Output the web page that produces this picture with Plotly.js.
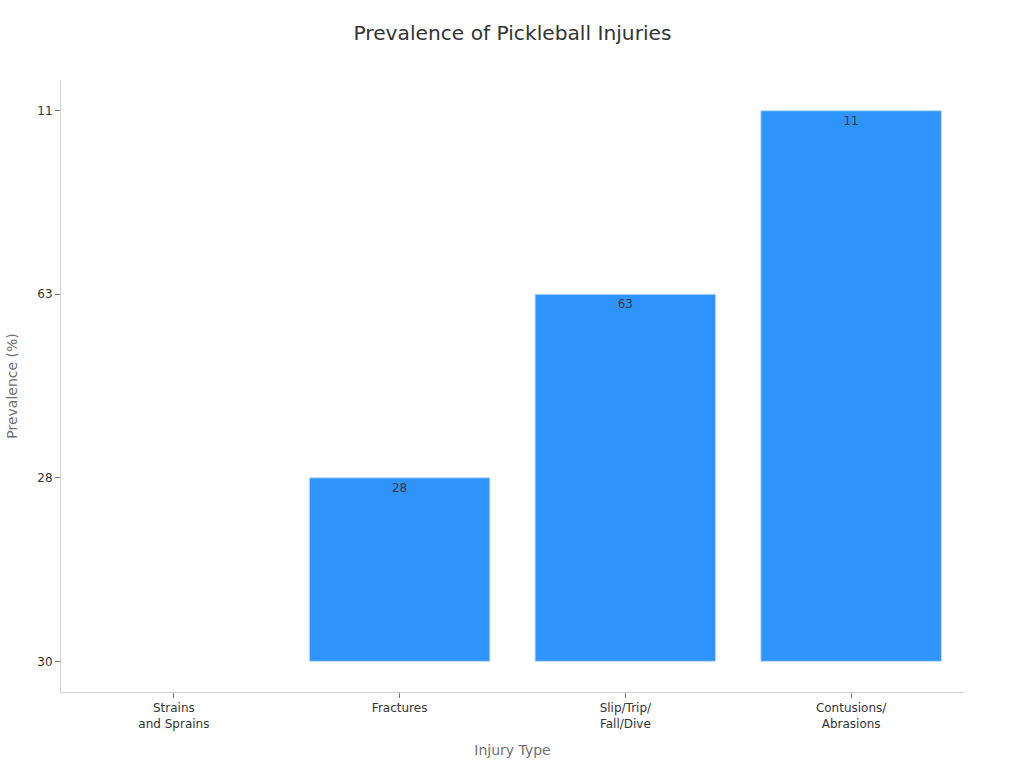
<!DOCTYPE html>
<html><head><meta charset="utf-8">
<script src="https://cdn.plot.ly/plotly-3.0.1.min.js"></script>
<style>html,body{margin:0;padding:0;background:#fff}</style></head>
<body><div id="chart" style="width:1024px;height:768px"></div>
<script>
const categories = ['Strains<br>and Sprains','Fractures','Slip/Trip/<br>Fall/Dive','Contusions/<br>Abrasions'];
const values = ['30','28','63','11'];
const valueOrder = ['30','28','63','11'];
const barLabels = ['','28','63','11'];
const FONT = '"DejaVu Sans", sans-serif';
Plotly.newPlot('chart',[{
  type:'bar', x:categories, y:values,
  text:barLabels, textposition:'inside', insidetextanchor:'end', textangle:0,
  textfont:{family:FONT,size:12,color:'#3a3a3a'},
  marker:{color:'#2E93FA',line:{color:'#BFDDFB',width:[0,1,1,1]}},
  cliponaxis:false, hoverinfo:'skip'
}],{
  width:1024,height:768,
  paper_bgcolor:'#fff',plot_bgcolor:'#fff',
  font:{family:FONT,size:12,color:'#333'},
  title:{text:'Prevalence of Pickleball Injuries',x:0.5005,xanchor:'center',y:0.957,yanchor:'middle',font:{family:FONT,size:20.2,color:'#333333'}},
  margin:{l:60.6,r:60,t:80,b:76},
  bargap:0.2,showlegend:false,
  xaxis:{type:'category',categoryorder:'array',categoryarray:categories,
    range:[-0.5,3.5],showgrid:false,zeroline:false,showline:true,linecolor:'#D4D4D4',linewidth:1,
    ticks:'outside',ticklen:5,tickcolor:'#777777',tickfont:{family:FONT,size:12,color:'#333'},
    title:{text:'Injury Type',standoff:15,font:{family:FONT,size:14,color:'#707070'}}},
  yaxis:{type:'category',categoryorder:'array',categoryarray:valueOrder,
    range:[-0.167,3.167],showgrid:false,zeroline:false,showline:true,linecolor:'#D4D4D4',linewidth:1,
    ticks:'outside',ticklen:5,tickcolor:'#777777',tickfont:{family:FONT,size:12,color:'#333'},
    title:{text:'Prevalence (%)',standoff:15.5,font:{family:FONT,size:14,color:'#707070'}}}
},{displayModeBar:false});
</script></body></html>
